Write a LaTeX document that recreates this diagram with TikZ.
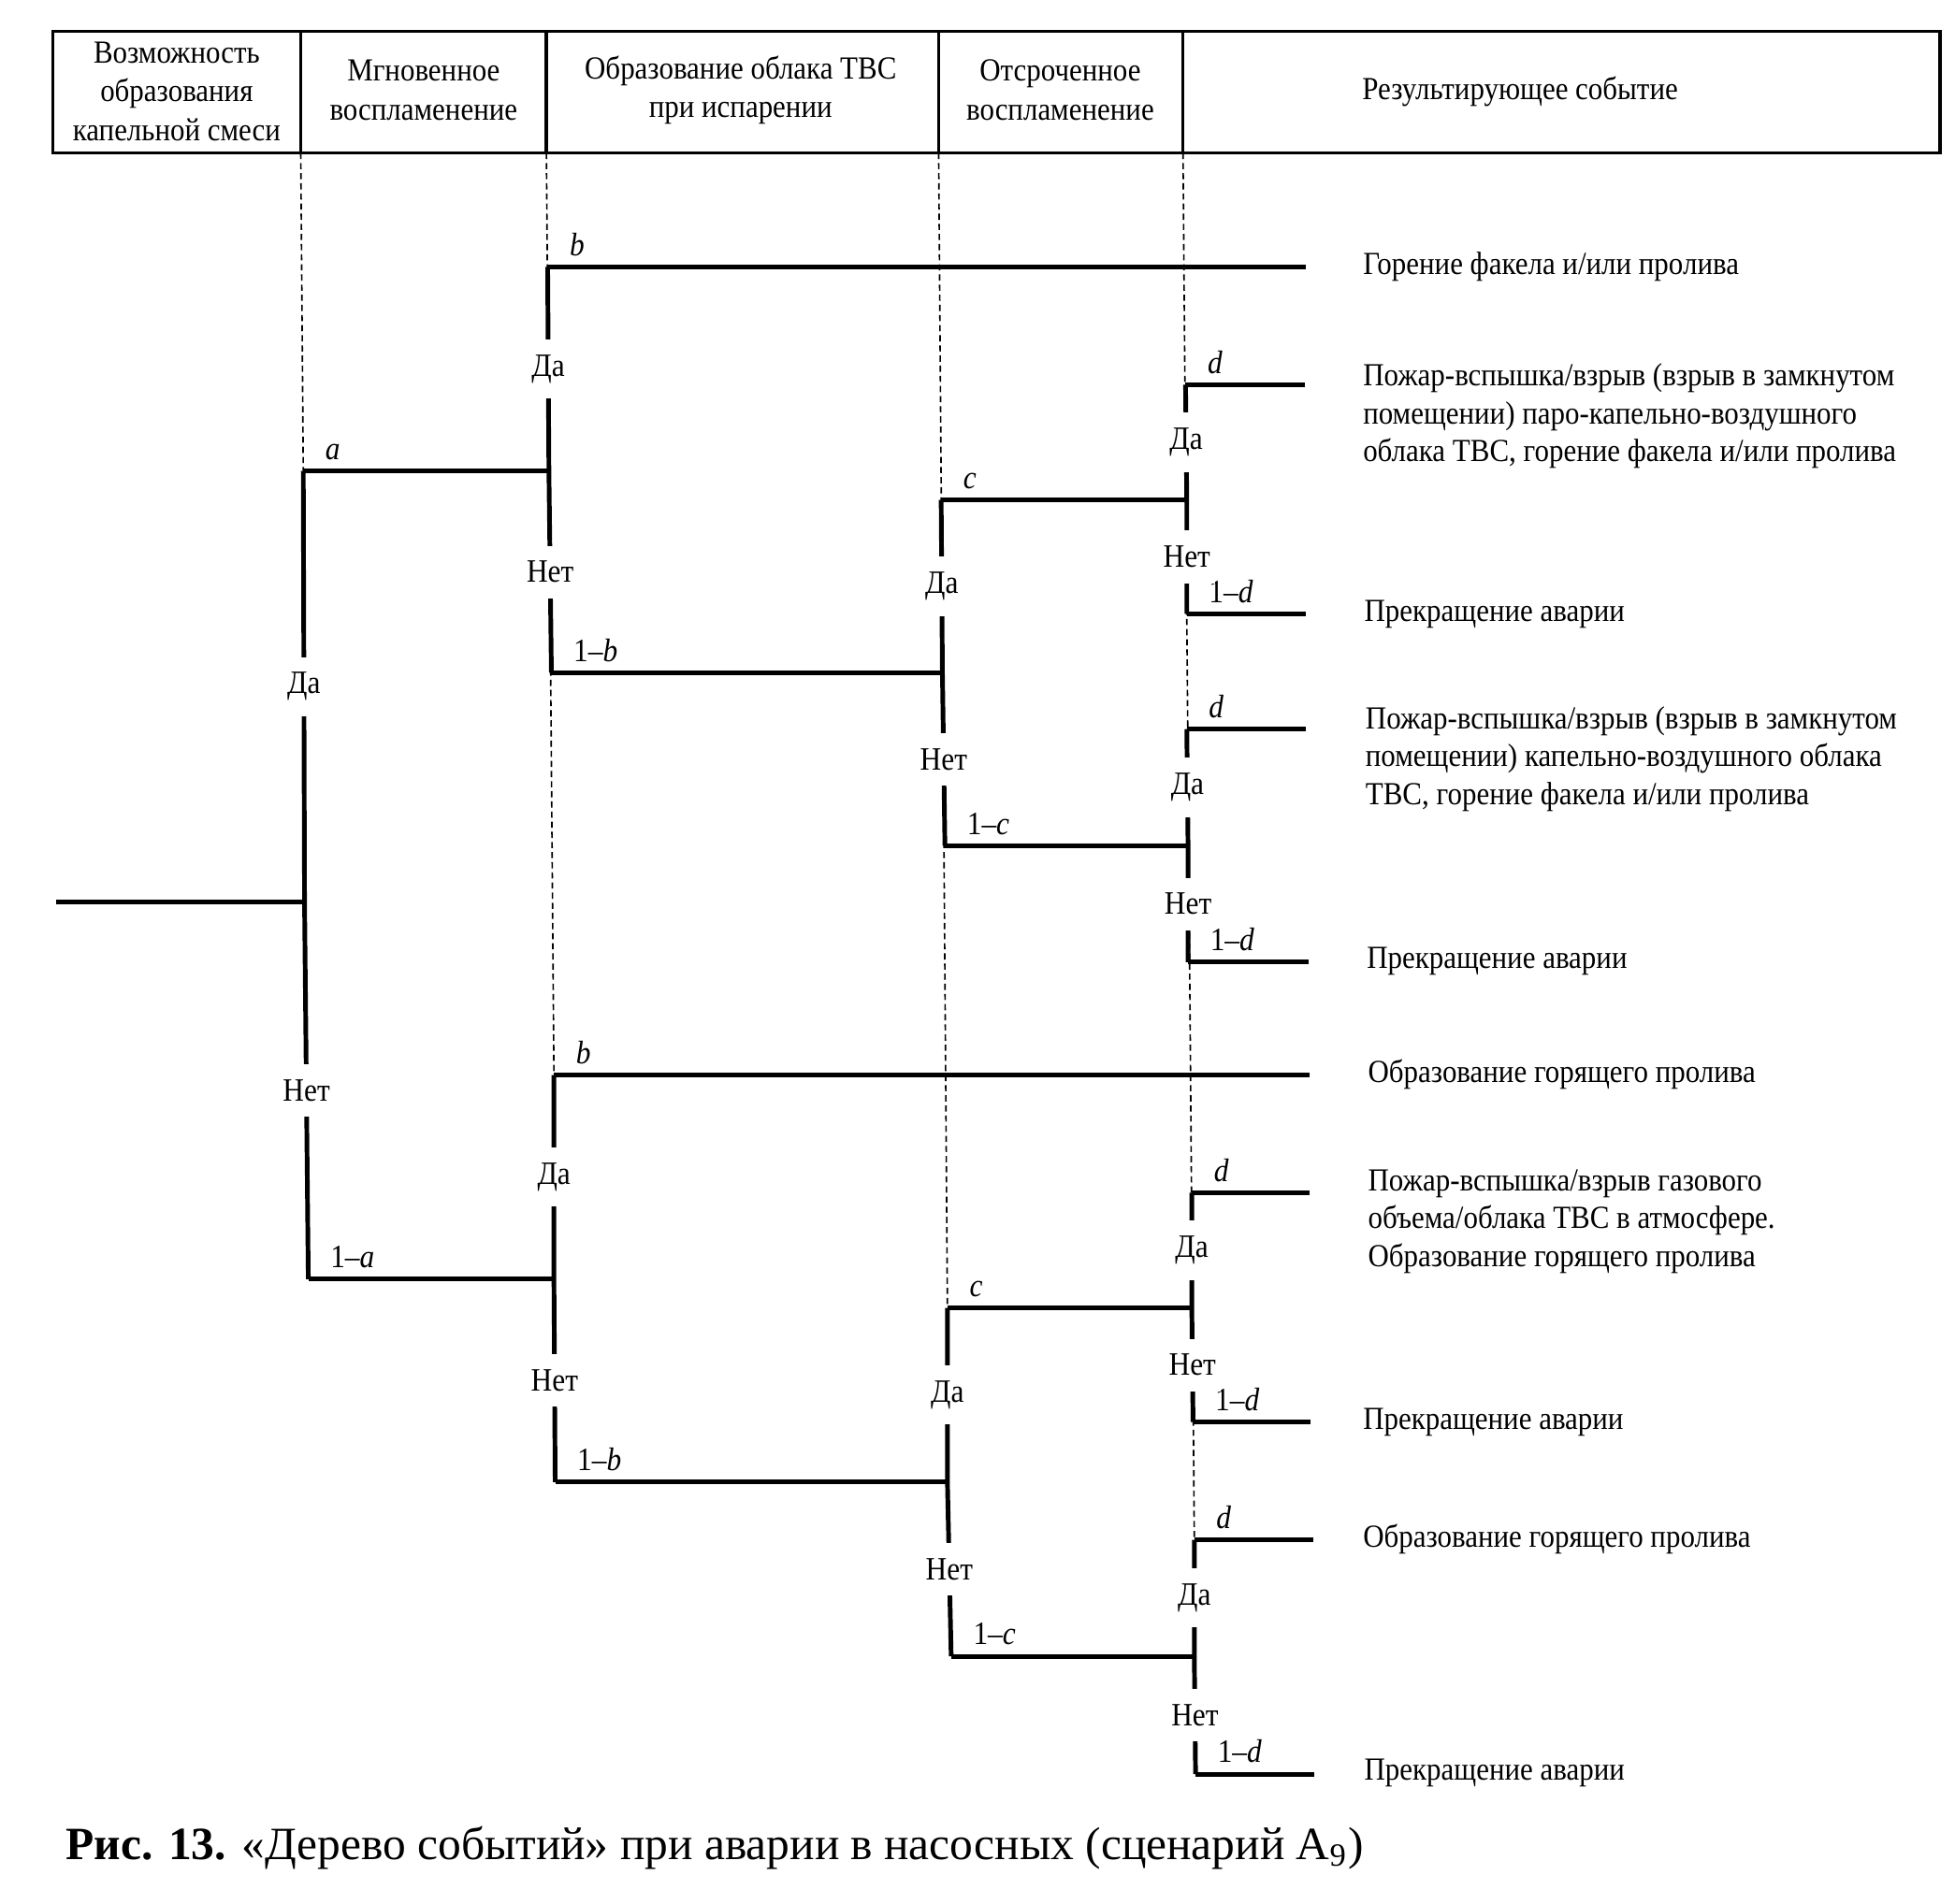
\documentclass[tikz,border=0pt]{standalone}
\usepackage{fontspec}
\setmainfont[FakeStretch=0.9]{Liberation Serif}
\newfontfamily\capfont{Liberation Serif}
\begin{document}
\begin{tikzpicture}[x=0.01cm,y=-0.01cm,
  tree/.style={line width=1.05pt},
  guide/.style={line width=0.35pt, dash pattern=on 1.4pt off 0.9pt},
  frame/.style={line width=0.75pt},
  yn/.style={fill=white, inner xsep=1pt, inner ysep=3.5pt, font=\fontsize{7.4}{8.5}\selectfont},
  prob/.style={anchor=south west, inner sep=0.5pt, xshift=4pt, yshift=1.5pt, font=\fontsize{7.4}{8.5}\selectfont},
  res/.style={anchor=base west, align=left, inner sep=0pt, font=\fontsize{7.3}{8.6}\selectfont},
  head/.style={align=center, inner sep=0pt, font=\fontsize{7.3}{8.8}\selectfont},
]
\useasboundingbox (0,0) rectangle (1560,1519.7);

% header table
\draw[frame] (42,25) rectangle (1548,122);
\foreach \x in {240,436,749,944} \draw[frame] (\x,25) -- (\x,122);
\node[head] (h1) at (141,73) {Возможность\\образования\\капельной смеси};
\node[head] (h2) at (338,72) {Мгновенное\\воспламенение};
\node[head] (h3) at (591,72) {Образование облака ТВС\\при испарении};
\node[head] (h4) at (846,72) {Отсроченное\\воспламенение};
\node[head] (h5) at (1213,73) {Результирующее событие};

% coordinates of branch points
\coordinate (g1) at (240,122);
\coordinate (g2) at (436,122);
\coordinate (g3) at (749,122);
\coordinate (g4) at (944,122);
\coordinate (r0) at (45,720);
\coordinate (A)  at (243,720);
\coordinate (At) at (242,376);
\coordinate (Ab) at (246,1021);
\coordinate (B1t) at (437,213);  \coordinate (B1j) at (438,376);  \coordinate (B1b) at (440,537);
\coordinate (C1t) at (751,399);  \coordinate (C1j) at (752,537);  \coordinate (C1b) at (754,675);
\coordinate (D1t) at (946,307);  \coordinate (D1j) at (947,399);  \coordinate (D1b) at (947,490);
\coordinate (D2t) at (947,582);  \coordinate (D2j) at (948,675);  \coordinate (D2b) at (948,768);
\coordinate (B2t) at (442,858);  \coordinate (B2j) at (442,1021); \coordinate (B2b) at (443,1183);
\coordinate (C2t) at (756,1044); \coordinate (C2j) at (756,1183); \coordinate (C2b) at (759,1322);
\coordinate (D3t) at (951,952);  \coordinate (D3j) at (951,1044); \coordinate (D3b) at (952,1135);
\coordinate (D4t) at (953,1229); \coordinate (D4j) at (953,1322); \coordinate (D4b) at (954,1416);
% free ends
\coordinate (eB1) at (1042,213);
\coordinate (eD1t) at (1041,307); \coordinate (eD1b) at (1042,490);
\coordinate (eD2t) at (1042,582); \coordinate (eD2b) at (1044,768);
\coordinate (eB2) at (1045,858);
\coordinate (eD3t) at (1045,952); \coordinate (eD3b) at (1046,1135);
\coordinate (eD4t) at (1048,1229); \coordinate (eD4b) at (1049,1416);

% dashed guides
\draw[guide] (g1) -- (At);
\draw[guide] (g2) -- (B2t);
\draw[guide] (g3) -- (C2t);
\draw[guide] (g4) -- (D4t);

% horizontal branches
\draw[tree] (r0) -- (A);
\draw[tree] (At) -- node[prob, pos=0]{\textit{a}} (B1j);
\draw[tree] (Ab) -- node[prob, pos=0]{1–\textit{a}} (B2j);
\draw[tree] (B1t) -- node[prob, pos=0]{\textit{b}} (eB1);
\draw[tree] (B1b) -- node[prob, pos=0]{1–\textit{b}} (C1j);
\draw[tree] (C1t) -- node[prob, pos=0]{\textit{c}} (D1j);
\draw[tree] (C1b) -- node[prob, pos=0]{1–\textit{c}} (D2j);
\draw[tree] (D1t) -- node[prob, pos=0]{\textit{d}} (eD1t);
\draw[tree] (D1b) -- node[prob, pos=0]{1–\textit{d}} (eD1b);
\draw[tree] (D2t) -- node[prob, pos=0]{\textit{d}} (eD2t);
\draw[tree] (D2b) -- node[prob, pos=0]{1–\textit{d}} (eD2b);
\draw[tree] (B2t) -- node[prob, pos=0]{\textit{b}} (eB2);
\draw[tree] (B2b) -- node[prob, pos=0]{1–\textit{b}} (C2j);
\draw[tree] (C2t) -- node[prob, pos=0]{\textit{c}} (D3j);
\draw[tree] (C2b) -- node[prob, pos=0]{1–\textit{c}} (D4j);
\draw[tree] (D3t) -- node[prob, pos=0]{\textit{d}} (eD3t);
\draw[tree] (D3b) -- node[prob, pos=0]{1–\textit{d}} (eD3b);
\draw[tree] (D4t) -- node[prob, pos=0]{\textit{d}} (eD4t);
\draw[tree] (D4b) -- node[prob, pos=0]{1–\textit{d}} (eD4b);

% vertical branches with Да / Нет
\draw[tree] (At)  -- node[yn]{Да} (A)   -- node[yn]{Нет} (Ab);
\draw[tree] (B1t) -- node[yn]{Да} (B1j) -- node[yn]{Нет} (B1b);
\draw[tree] (C1t) -- node[yn]{Да} (C1j) -- node[yn]{Нет} (C1b);
\draw[tree] (D1t) -- node[yn]{Да} (D1j) -- node[yn]{Нет} (D1b);
\draw[tree] (D2t) -- node[yn]{Да} (D2j) -- node[yn]{Нет} (D2b);
\draw[tree] (B2t) -- node[yn]{Да} (B2j) -- node[yn]{Нет} (B2b);
\draw[tree] (C2t) -- node[yn]{Да} (C2j) -- node[yn]{Нет} (C2b);
\draw[tree] (D3t) -- node[yn]{Да} (D3j) -- node[yn]{Нет} (D3b);
\draw[tree] (D4t) -- node[yn]{Да} (D4j) -- node[yn]{Нет} (D4b);

% resulting events (base = baseline of last line)
\node[res] (r1) at (1087,219) {Горение факела и/или пролива};
\node[res] (r2) at (1087,368.5) {Пожар-вспышка/взрыв (взрыв в замкнутом\\помещении) паро-капельно-воздушного\\облака ТВС, горение факела и/или пролива};
\node[res] (r3) at (1088,496) {Прекращение аварии};
\node[res] (r4) at (1089,642) {Пожар-вспышка/взрыв (взрыв в замкнутом\\помещении) капельно-воздушного облака\\ТВС, горение факела и/или пролива};
\node[res] (r5) at (1090,773) {Прекращение аварии};
\node[res] (r6) at (1091,864) {Образование горящего пролива};
\node[res] (r7) at (1091,1011) {Пожар-вспышка/взрыв газового\\объема/облака ТВС в атмосфере.\\Образование горящего пролива};
\node[res] (r8) at (1087,1141) {Прекращение аварии};
\node[res] (r9) at (1087,1235) {Образование горящего пролива};
\node[res] (r10) at (1088,1421) {Прекращение аварии};

% caption
\node[anchor=base west, inner sep=0pt, font=\capfont\fontsize{10.5}{12.5}\selectfont] (cap) at (52,1484)
  {\textbf{Рис. 13.} «Дерево событий» при аварии в насосных (сценарий А\textsubscript{9})};
\end{tikzpicture}
\end{document}
